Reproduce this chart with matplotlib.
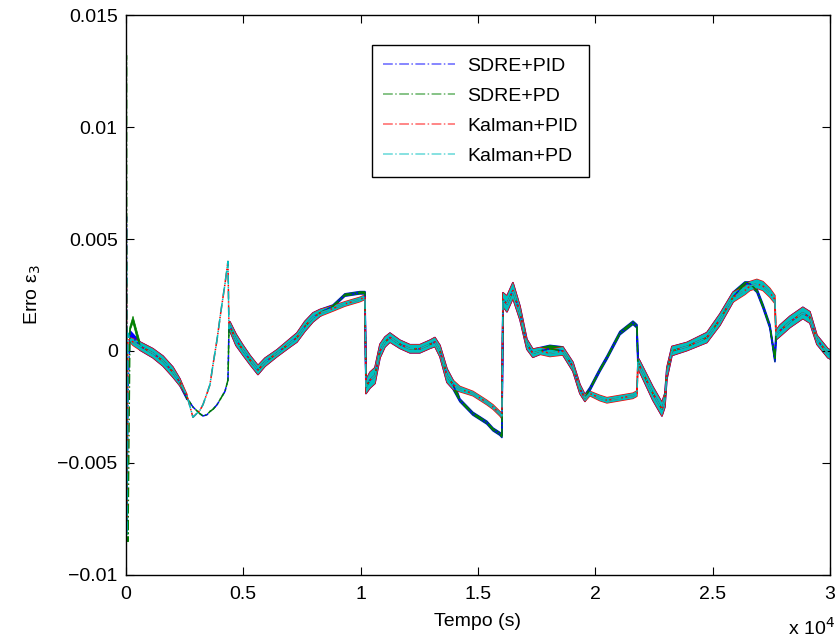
import numpy as np
import matplotlib
matplotlib.use('Agg')
import matplotlib.pyplot as plt
from matplotlib.lines import Line2D

plt.rcParams['font.family'] = ['Liberation Sans', 'DejaVu Sans']

# time grid (s), shared by all four runs; repeated steps are the jumps
tempo = [
	0, 20, 45, 85, 170, 300, 600, 1150, 1580, 2000, 2300, 2600, 2855, 3150,
	3280, 3450, 3580, 3710, 3880, 4050, 4220, 4346, 4390, 4430, 4690, 4985,
	5285, 5625, 5925, 6435, 6990, 7285, 7625, 7970, 8265, 8820, 9330, 9970,
	10185, 10226, 10400, 10610, 10825, 11035, 11250, 11675, 12100, 12525,
	12955, 13165, 13380, 13680, 13935, 14230, 14785, 15085, 15380, 15640,
	15935, 16020, 16064, 16235, 16490, 16790, 17085, 17340, 17640, 18065,
	18620, 19045, 19345, 19560, 19770, 20195, 20495, 21050, 21605, 21775,
	21816, 21900, 22455, 22840, 22965, 23050, 23265, 23905, 24755, 25310,
	25865, 26375, 26590, 26885, 27145, 27440, 27655, 27697, 27865, 28295,
	28845, 29145, 29445, 29910, 30000,
]

sdre_pid = [
	0.0, 0.0060, -0.0078, -0.0020, 0.0008, 0.0006, 0.00022, -0.0001, -0.00045,
	-0.00094, -0.0014, -0.0021, -0.0025, -0.0028, -0.0029, -0.00285, -0.0027,
	-0.0026, -0.0024, -0.0021, -0.0018, -0.0013, 0.0010, 0.0011, 0.0005, 0.00004,
	-0.0004, -0.00085, -0.0005, -0.0001, 0.00036, 0.0006, 0.0011, 0.0015, 0.0017,
	0.0020, 0.0025, 0.0026, 0.0026, -0.0016, -0.0013, -0.0011, 0.0, 0.0004,
	0.0006, 0.0003, 0.0001, 0.0001, 0.0003, 0.0004, 0.0, -0.0011, -0.0015,
	-0.0022, -0.0028, -0.0030, -0.0032, -0.0035, -0.0037, -0.0038, 0.0023,
	0.0021, 0.0027, 0.0017, 0.0003, -0.0001, 0.0, 0.0001, 0.0, -0.0007, -0.0017,
	-0.0021, -0.0017, -0.00085, -0.0003, 0.0008, 0.00126, 0.0011, -0.0005,
	-0.0007, -0.0019, -0.0026, -0.0022, -0.0010, 0.0, 0.0002, 0.0006, 0.0014,
	0.0024, 0.0030, 0.0030, 0.0027, 0.0020, 0.0011, -0.0004, 0.0007, 0.0009,
	0.0013, 0.0017, 0.0015, 0.0005, -0.0001, -0.00015,
]

sdre_pd = list(sdre_pid)
sdre_pd[:6] = [0.0, 0.0132, -0.0060, -0.0085, 0.0010, 0.0014]

kalman_pid = [
	0.0, 0.0030, -0.0075, 0.0005, 0.0005, 0.0004, 0.00022, -0.0001, -0.00045,
	-0.00094, -0.0014, -0.0020, -0.00296, -0.00265, -0.0024, -0.0019, -0.0015,
	-0.0006, 0.0005, 0.0018, 0.0030, 0.0040, 0.0010, 0.0011, 0.0005, 0.00004,
	-0.0004, -0.00085, -0.0005, -0.0001, 0.00036, 0.0006, 0.0011, 0.0015, 0.0017,
	0.0019, 0.0021, 0.0023, 0.0024, -0.0016, -0.0013, -0.0011, 0.0, 0.0004,
	0.0006, 0.0003, 0.0001, 0.0001, 0.0003, 0.0004, 0.0, -0.0011, -0.0015,
	-0.0017, -0.0019, -0.0021, -0.0023, -0.0025, -0.0028, -0.0029, 0.0023,
	0.0021, 0.0027, 0.0017, 0.0003, -0.0001, 0.0, -0.0001, 0.0, -0.0007, -0.0017,
	-0.0021, -0.0019, -0.0021, -0.0022, -0.0021, -0.0020, -0.0019, -0.0005,
	-0.0007, -0.0019, -0.0026, -0.0022, -0.0010, 0.0, 0.0002, 0.0006, 0.0014,
	0.0024, 0.0027, 0.0029, 0.0030, 0.0029, 0.0026, 0.0023, 0.0007, 0.0009,
	0.0013, 0.0017, 0.0015, 0.0005, -0.0001, -0.00015,
]

kalman_pd = list(kalman_pid)
kalman_pd[:6] = [0.0, 0.0038, -0.0082, 0.0008, 0.0005, 0.0004]

# half-width of the noise band
spread_kalman = [
	0, 0, 0, 0, 0.0001, 0.00015, 0.00018, 0.0002, 0.00022, 0.00022, 0.00015,
	0.00006, 0, 0, 0, 0, 0, 0, 0, 0, 0, 0, 0.00015, 0.0002, 0.00025, 0.00022,
	0.0002, 0.0002, 0.00018, 0.00015, 0.00018, 0.0002, 0.00022, 0.0002,
	0.00015, 0.00012, 0.0001, 0.0001, 0.0001, 0.0003, 0.00035, 0.00035,
	0.0003, 0.00022, 0.0002, 0.00018, 0.00018, 0.00018, 0.00018, 0.0002,
	0.00025, 0.0003, 0.0002, 0.00012, 0.0001, 0.0001, 0.0001, 0.0001, 0.0001,
	0.00012, 0.0003, 0.00035, 0.00035, 0.0003, 0.00022, 0.00018, 0.00015,
	0.00015, 0.00018, 0.0002, 0.0002, 0.00015, 0.0001, 0.00012, 0.00012,
	0.00012, 0.00012, 0.00012, 0.0002, 0.00025, 0.0003, 0.0003, 0.0003,
	0.00025, 0.0002, 0.00018, 0.00022, 0.00025, 0.00022, 0.00018, 0.0002,
	0.0002, 0.0002, 0.0002, 0.00018, 0.0002, 0.00025, 0.00025, 0.00025,
	0.00025, 0.0002, 0.0002, 0.0002,
]

spread_sdre = [
	0, 0, 0, 0, 0.0001, 0.00015, 0.00018, 0.0002, 0.00022, 0.00022, 0.00015,
	0.00006, 0, 0, 0, 0, 0, 0, 0, 0, 0, 0, 0.00015, 0.0002, 0.00025, 0.00022,
	0.0002, 0.0002, 0.00018, 0.00015, 0.00018, 0.0002, 0.00022, 0.0002,
	0.00015, 0.00005, 0.00005, 0.00005, 0.00005, 0.0003, 0.00035, 0.00035,
	0.0003, 0.00022, 0.0002, 0.00018, 0.00018, 0.00018, 0.00018, 0.0002,
	0.00025, 0.0003, 0.0002, 0.00006, 0.00006, 0.00006, 0.00006, 0.00006,
	0.00006, 0.00006, 0.0003, 0.00035, 0.00035, 0.0003, 0.00022, 0.00018,
	0.00015, 0.00015, 0.00018, 0.0002, 0.0002, 0.00015, 0.00007, 0.00007,
	0.00007, 0.00007, 0.00007, 0.00007, 0.0002, 0.00025, 0.0003, 0.0003,
	0.0003, 0.00025, 0.0002, 0.00018, 0.00022, 0.00025, 0.00022, 0.00008,
	0.00008, 0.00008, 0.00008, 0.00008, 0.00008, 0.0002, 0.00025, 0.00025,
	0.00025, 0.00025, 0.0002, 0.0002, 0.0002,
]

series = [
	('SDRE+PID', sdre_pid, spread_sdre, '#0000ff', 1.2),
	('SDRE+PD', sdre_pd, spread_sdre, '#008000', 0.5),
	('Kalman+PID', kalman_pid, spread_kalman, '#ff0000', 1.0),
	('Kalman+PD', kalman_pd, spread_kalman, '#00bfbf', 0.0),
]

fig = plt.figure(figsize=(8.37, 6.42), dpi=100)
ax = fig.add_axes([0.1505, 0.1044, 0.8411, 0.8722])

t = np.array(tempo)
handles = []
for name, vals, spread, color, edge in series:
	y = np.array(vals)
	w = np.array(spread)
	ax.fill_between(t, y - w, y + w, where=w > 0, color=color, lw=edge)
	ax.plot(t, y, color=color, ls='-.', lw=1.1)
	handles.append(Line2D([], [], color=color, ls='-.', lw=1.1, alpha=0.6))

ax.set_xlim(0, 30000)
ax.set_ylim(-0.01, 0.015)
ax.set_xticks([0, 5000, 10000, 15000, 20000, 25000, 30000])
ax.set_xticklabels(['0', '0.5', '1', '1.5', '2', '2.5', '3'])
ax.set_yticks([-0.01, -0.005, 0, 0.005, 0.01, 0.015])
ax.set_yticklabels(['\u22120.01', '\u22120.005', '0', '0.005', '0.01', '0.015'])
ax.tick_params(direction='in', length=6, top=True, right=True, labelsize=14, pad=6)
ax.tick_params(axis='x', pad=8)
for s in ax.spines.values():
	s.set_linewidth(1.0)

ax.set_xlabel('Tempo (s)', fontsize=14, labelpad=7)
ax.set_ylabel('Erro \u03b5$_3$', fontsize=14, labelpad=10)
fig.text(0.998, 0.005, 'x 10$^4$', ha='right', va='bottom', fontsize=14)

leg = ax.legend(handles, [s[0] for s in series], loc='upper left',
	bbox_to_anchor=(0.349, 0.946), borderaxespad=0, fontsize=14,
	handlelength=3.7, fancybox=False, framealpha=1, edgecolor='black',
	borderpad=0.6, labelspacing=0.65, handletextpad=0.6)
leg.get_frame().set_linewidth(1.0)

fig.savefig('out.png', dpi=100)
